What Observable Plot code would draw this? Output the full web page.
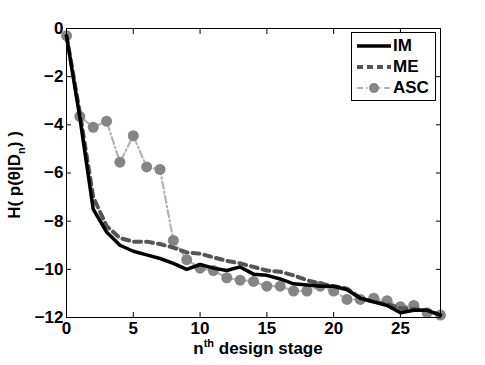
<!DOCTYPE html>
<html><head><meta charset="utf-8">
<script src="https://cdn.jsdelivr.net/npm/d3@7"></script>
<script src="https://cdn.jsdelivr.net/npm/@observablehq/plot@0.6"></script>
<style>
body{margin:0;background:#fff;}
#wrap{position:relative;width:485px;height:365px;font-family:"Liberation Sans",Arial,sans-serif;}
#legend{position:absolute;left:351px;top:32px;width:85px;height:69px;border:1px solid #000;background:#fff;box-sizing:border-box;}
.row{position:absolute;left:0;height:20px;display:flex;align-items:center;}
.row span{font-weight:bold;font-size:17px;margin-left:1px;}
</style></head>
<body><div id="wrap"></div>
<script>
const stages = [0,1,2,3,4,5,6,7,8,9,10,11,12,13,14,15,16,17,18,19,20,21,22,23,24,25,26,27,28];
const IM  = [-0.3,-3.7,-7.5,-8.45,-9.0,-9.25,-9.4,-9.55,-9.75,-10.0,-9.8,-9.95,-10.05,-9.9,-10.2,-10.25,-10.4,-10.6,-10.65,-10.7,-10.7,-10.85,-11.2,-11.35,-11.5,-11.8,-11.7,-11.7,-11.9];
const ME  = [-0.3,-3.5,-7.0,-8.2,-8.7,-8.85,-8.85,-8.95,-9.1,-9.3,-9.35,-9.5,-9.65,-9.75,-9.9,-10.05,-10.1,-10.25,-10.45,-10.6,-10.7,-10.8,-11.2,-11.35,-11.45,-11.6,-11.65,-11.7,-11.9];
const ASC = [-0.3,-3.65,-4.1,-3.85,-5.55,-4.45,-5.75,-5.85,-8.8,-9.6,-9.95,-10.05,-10.35,-10.45,-10.5,-10.7,-10.7,-10.9,-10.9,-10.7,-10.9,-11.25,-11.25,-11.2,-11.3,-11.55,-11.5,-11.8,-11.9];
const xTicks = [0,5,10,15,20,25];
const yTicks = [0,-2,-4,-6,-8,-10,-12];
const seriesNames = ["IM","ME","ASC"];

const toRows = arr => stages.map((s,i)=>({x:s,y:arr[i]}));
const fmt = d => d < 0 ? "\u2212" + Math.abs(d) : String(d);

const chart = Plot.plot({
  width:485, height:365,
  marginLeft:66, marginRight:45, marginTop:28, marginBottom:48,
  style:{fontFamily:"'Liberation Sans',Arial,sans-serif", fontSize:"17px", fontWeight:"bold", color:"#000", background:"#fff"},
  x:{domain:[0,28]},
  y:{domain:[-12,0]},
  marks:[
    Plot.axisX({ticks:xTicks, tickSize:-5, tickPadding:9, tickFormat:fmt, label:null, stroke:"#000"}),
    Plot.axisX({anchor:"top", ticks:xTicks, tickSize:-5, tickFormat:()=>"", label:null}),
    Plot.axisY({ticks:yTicks, tickSize:-5, tickPadding:8, tickFormat:fmt, label:null}),
    Plot.axisY({anchor:"right", ticks:yTicks, tickSize:-5, tickFormat:()=>"", label:null}),
    Plot.line(toRows(ASC), {x:"x", y:"y", stroke:"#b4b4b4", strokeWidth:2.2, strokeDasharray:"7,3,1.5,3"}),
    Plot.dot(toRows(ASC), {x:"x", y:"y", r:5.5, fill:"#858585", stroke:"none"}),
    Plot.line(toRows(ME), {x:"x", y:"y", stroke:"#555", strokeWidth:4, strokeDasharray:"7,5"}),
    Plot.line(toRows(IM), {x:"x", y:"y", stroke:"#000", strokeWidth:3.5}),
    Plot.frame({stroke:"#000", strokeWidth:1})
  ]
});
const wrap = document.getElementById("wrap");
wrap.appendChild(chart);

const svg = d3.select(chart);
// x label
const xl = svg.append("text").attr("x",258).attr("y",354).attr("text-anchor","middle")
  .attr("font-size","17px").attr("font-weight","bold").attr("fill","#000");
xl.append("tspan").text("n");
xl.append("tspan").attr("dy",-7).attr("font-size","11px").text("th");
xl.append("tspan").attr("dy",7).text(" design stage");
// y label
const yl = svg.append("text").attr("transform","translate(20,175) rotate(-90)").attr("text-anchor","middle")
  .attr("font-size","17px").attr("font-weight","bold").attr("fill","#000");
yl.append("tspan").text("H( p(\u03b8|D");
yl.append("tspan").attr("dy",5).attr("font-size","11px").text("n");
yl.append("tspan").attr("dy",-5).text(") )");

// legend
const leg = document.createElement("div"); leg.id="legend"; wrap.appendChild(leg);
const styles = [
  {stroke:"#000", w:3.5, dash:"", marker:false},
  {stroke:"#555", w:4, dash:"6,4", marker:false},
  {stroke:"#b4b4b4", w:2.2, dash:"6,3,1.5,3", marker:true}
];
seriesNames.forEach((name,i)=>{
  const row=document.createElement("div"); row.className="row"; row.style.top=(3+i*21)+"px";
  const st=styles[i];
  row.innerHTML=`<svg width="40" height="20"><line x1="5" x2="39" y1="10" y2="10" stroke="${st.stroke}" stroke-width="${st.w}" stroke-dasharray="${st.dash}"/>${st.marker?'<circle cx="22" cy="10" r="5" fill="#858585"/>':''}</svg><span>${name}</span>`;
  leg.appendChild(row);
});
</script></body></html>
